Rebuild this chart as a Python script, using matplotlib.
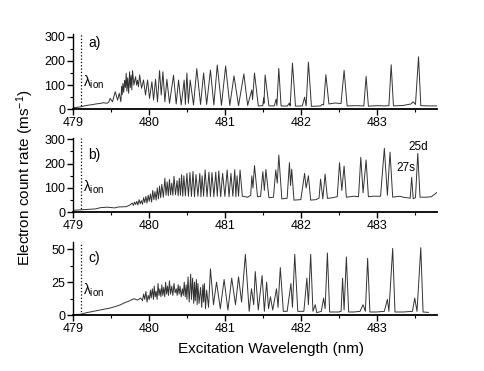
import numpy as np
import matplotlib
matplotlib.use('Agg')
import matplotlib.pyplot as plt
from matplotlib.ticker import MultipleLocator

plt.rcParams['font.family'] = ['Liberation Sans', 'DejaVu Sans']
plt.rcParams['mathtext.fontset'] = 'custom'
plt.rcParams['mathtext.rm'] = 'Liberation Sans'
plt.rcParams['mathtext.it'] = 'Liberation Sans'

# ---- panel a: peak tops and valley/baseline points (nm, counts per ms)
a_pk_x = [479.49, 479.556, 479.609, 479.64, 479.657, 479.68, 479.701, 479.72, 479.745, 479.765,
          479.784, 479.824, 479.85, 479.877, 479.929, 479.982, 480.039, 480.087, 480.140, 480.184,
          480.236, 480.324, 480.390, 480.464, 480.50, 480.543, 480.63, 480.72, 480.81, 480.90,
          481.01, 481.12, 481.25, 481.355, 481.39, 481.51, 481.53, 481.675, 481.71, 481.85,
          481.89, 482.05, 482.10, 482.28, 482.33, 482.57, 482.86, 483.19, 483.48, 483.55]
a_pk_y = [45, 73, 66, 95, 107, 120, 149, 130, 155, 140,
          160, 135, 120, 142, 121, 121, 114, 124, 160, 155,
          124, 141, 121, 121, 150, 121, 168, 150, 162, 183,
          179, 138, 146, 80, 150, 47, 142, 42, 169, 26,
          191, 50, 195, 20, 143, 161, 136, 184, 31, 217]
a_bg_x = [479.00, 479.05, 479.10, 479.15, 479.20, 479.25, 479.30, 479.35, 479.40, 479.45,
          479.47, 479.52, 479.587, 479.631, 479.648, 479.668, 479.69, 479.71, 479.733, 479.755,
          479.775, 479.802, 479.838, 479.862, 479.903, 479.955, 480.008, 480.061, 480.113, 480.162,
          480.210, 480.271, 480.359, 480.425, 480.48, 480.52, 480.587, 480.68, 480.76, 480.855,
          480.955, 481.065, 481.18, 481.30, 481.365, 481.44, 481.50, 481.515, 481.58, 481.65,
          481.685, 481.74, 481.82, 481.86, 481.93, 482.02, 482.07, 482.14, 482.26, 482.30,
          482.37, 482.45, 482.53, 482.61, 482.72, 482.83, 482.89, 483.00, 483.10, 483.16,
          483.22, 483.35, 483.45, 483.51, 483.58, 483.70, 483.79]
a_bg_y = [6, 8, 10, 14, 17, 19, 22, 24, 27, 25,
          30, 31, 38, 31, 60, 70, 90, 75, 66, 90,
          80, 100, 100, 93, 87, 59, 45, 38, 31, 59,
          31, 25, 22, 18, 20, 25, 18, 20, 20, 18,
          16, 16, 15, 16, 40, 14, 15, 25, 14, 14,
          15, 14, 13, 14, 13, 14, 14, 12, 14, 18,
          22, 26, 24, 14, 15, 14, 13, 15, 14, 15,
          14, 16, 22, 20, 15, 14, 14]

# ---- panel b
b_pk_x = [479.78, 479.81, 479.84, 479.87, 479.90, 479.93, 479.96, 479.99, 480.02, 480.05,
          480.08, 480.11, 480.14, 480.17, 480.21, 480.24, 480.27, 480.30, 480.33, 480.37,
          480.40, 480.43, 480.46, 480.50, 480.54, 480.58, 480.62, 480.67, 480.70, 480.74,
          480.79, 480.83, 480.88, 480.92, 480.97, 481.03, 481.08, 481.13, 481.16, 481.20,
          481.355, 481.39, 481.50, 481.54, 481.67, 481.71, 481.85, 481.88, 482.05, 482.10,
          482.26, 482.32, 482.51, 482.57, 482.79, 482.86, 483.10, 483.175, 483.46, 483.54]
b_pk_y = [38, 42, 45, 52, 48, 60, 65, 70, 75, 90,
          85, 100, 108, 115, 140, 125, 135, 120, 148, 130,
          140, 155, 150, 160, 163, 168, 155, 160, 150, 174,
          165, 163, 165, 170, 160, 174, 160, 175, 150, 174,
          150, 192, 167, 176, 174, 235, 204, 177, 160, 150,
          136, 157, 204, 190, 226, 215, 263, 247, 144, 242]
b_bg_x = [479.00, 479.10, 479.20, 479.30, 479.36, 479.45, 479.55, 479.60, 479.70, 479.75,
          479.795, 479.825, 479.855, 479.885, 479.915, 479.945, 479.975, 480.005, 480.035, 480.065,
          480.095, 480.125, 480.155, 480.19, 480.225, 480.255, 480.285, 480.315, 480.35, 480.385,
          480.415, 480.445, 480.48, 480.52, 480.56, 480.60, 480.645, 480.685, 480.72, 480.765,
          480.81, 480.855, 480.90, 480.945, 481.00, 481.055, 481.105, 481.145, 481.18, 481.23,
          481.30, 481.34, 481.37, 481.43, 481.47, 481.52, 481.58, 481.64, 481.69, 481.75,
          481.82, 481.865, 481.91, 482.00, 482.07, 482.13, 482.20, 482.24, 482.29, 482.35,
          482.42, 482.48, 482.54, 482.60, 482.70, 482.76, 482.82, 482.89, 482.95, 483.05,
          483.14, 483.21, 483.30, 483.35, 483.40, 483.44, 483.48, 483.51, 483.57, 483.65,
          483.72, 483.79]
b_bg_y = [8, 10, 12, 14, 19, 21, 18, 22, 23, 30,
          28, 32, 30, 35, 33, 40, 38, 45, 42, 52,
          50, 55, 60, 62, 70, 68, 72, 70, 72, 68,
          70, 66, 68, 66, 65, 64, 66, 64, 66, 64,
          65, 64, 66, 64, 65, 64, 66, 64, 66, 66,
          62, 70, 100, 64, 65, 90, 60, 62, 120, 55,
          58, 110, 50, 52, 100, 50, 52, 58, 55, 57,
          60, 64, 90, 62, 66, 64, 80, 64, 66, 66,
          70, 62, 66, 62, 60, 58, 56, 60, 62, 62,
          64, 81]

# ---- panel c
c_pk_x = [479.93, 479.96, 479.99, 480.02, 480.045, 480.07, 480.095, 480.12, 480.145, 480.17,
          480.195, 480.22, 480.245, 480.27, 480.30, 480.33, 480.36, 480.385, 480.41, 480.44,
          480.465, 480.49, 480.515, 480.55, 480.575, 480.60, 480.625, 480.645, 480.68, 480.71,
          480.73, 480.76, 480.81, 480.89, 480.99, 481.09, 481.18, 481.27, 481.35, 481.40,
          481.49, 481.55, 481.60, 481.68, 481.73, 481.87, 481.92, 482.08, 482.13, 482.19,
          482.30, 482.35, 482.55, 482.60, 482.82, 482.88, 483.14, 483.21, 483.50, 483.58]
c_pk_y = [16, 18, 15, 19, 20, 22, 18, 24, 20, 23,
          21, 25, 22, 26, 22, 24, 20, 23, 22, 20,
          25, 23, 29, 31, 28, 25, 27, 24, 21, 23,
          24, 19, 35, 25, 27, 28, 29, 46, 20, 33,
          30, 25, 14, 20, 36, 24, 46, 28, 46, 8,
          13, 47, 28, 44, 8, 43, 12, 50.5, 13, 51]
c_bg_x = [479.00, 479.10, 479.18, 479.27, 479.36, 479.49, 479.55, 479.62, 479.68, 479.75,
          479.80, 479.85, 479.89, 479.915, 479.945, 479.975, 480.005, 480.03, 480.06, 480.083,
          480.108, 480.133, 480.158, 480.183, 480.208, 480.233, 480.258, 480.285, 480.315, 480.345,
          480.372, 480.397, 480.425, 480.452, 480.478, 480.50, 480.53, 480.56, 480.59, 480.61,
          480.635, 480.66, 480.695, 480.72, 480.745, 480.785, 480.85, 480.94, 481.04, 481.14,
          481.22, 481.32, 481.38, 481.44, 481.52, 481.575, 481.63, 481.70, 481.77, 481.82,
          481.89, 481.96, 482.04, 482.10, 482.16, 482.21, 482.27, 482.32, 482.38, 482.50,
          482.53, 482.57, 482.63, 482.70, 482.78, 482.85, 482.91, 483.00, 483.10, 483.16,
          483.24, 483.35, 483.47, 483.53, 483.61, 483.68]
c_bg_y = [0.5, 0.8, 2, 3, 4, 5.5, 6.5, 7.8, 9.5, 11,
          12.5, 11.5, 13, 11, 12, 10, 12, 13, 12, 14,
          12, 15, 14, 15, 14, 16, 15, 16, 15, 17,
          15, 16, 14, 15, 14, 12, 10, 12, 9, 11,
          8, 9, 6, 10, 5, 6, 8, 5, 4, 8,
          10, 3, 8, 4, 3, 5, 4, 6, 3, 3,
          6, 3, 3, 8, 3, 2, 3, 5, 2.5, 2.5,
          3, 4, 2.5, 2.5, 3, 3, 2.5, 2.5, 3, 3,
          2.5, 2.5, 3, 3, 2.5, 2.2]

panels = [
    (a_pk_x, a_pk_y, a_bg_x, a_bg_y, 310, [0, 100, 200, 300], 50, 'a)', 274, 112),
    (b_pk_x, b_pk_y, b_bg_x, b_bg_y, 305, [0, 100, 200, 300], 50, 'b)', 235, 103),
    (c_pk_x, c_pk_y, c_bg_x, c_bg_y, 55, [0, 25, 50], 12.5, 'c)', 43, 19),
]

fig = plt.figure(figsize=(4.85, 3.71), dpi=100)
rects = [[0.1505, 0.7054, 0.75, 0.2022],
         [0.1505, 0.4278, 0.75, 0.2000],
         [0.1505, 0.1501, 0.75, 0.1966]]

for rect, (px, py, bx, by, ytop, yt, ymin, lab, laby, lamy) in zip(rects, panels):
    ax = fig.add_axes(rect)
    x = np.concatenate([px, bx])
    y = np.concatenate([py, by])
    order = np.argsort(x)
    ax.plot(x[order], y[order], color='#333333', lw=0.7)
    ax.axvline(479.1, color='black', ls=':', lw=0.9)
    ax.set_xlim(479, 483.79)
    ax.set_ylim(0, ytop)
    ax.set_yticks(yt)
    ax.set_xticks([479, 480, 481, 482, 483])
    ax.xaxis.set_minor_locator(MultipleLocator(0.5))
    ax.yaxis.set_minor_locator(MultipleLocator(ymin))
    ax.tick_params(which='major', direction='out', length=4, width=1, labelsize=9, pad=1.5)
    ax.tick_params(which='minor', direction='out', length=2.5, width=0.8)
    ax.spines['top'].set_visible(False)
    ax.spines['right'].set_visible(False)
    ax.spines['bottom'].set_linewidth(1.3)
    ax.spines['left'].set_linewidth(1.0)
    ax.text(479.2, laby, lab, fontsize=10, va='center', ha='left')
    ax.text(479.13, lamy, r'$\lambda_{\mathrm{ion}}$', fontsize=10, va='center', ha='left')
    if lab == 'b)':
        ax.text(483.54, 270, '25d', fontsize=8.5, ha='center', va='center')
        ax.text(483.38, 181, '27s', fontsize=8.5, ha='center', va='center')

fig.text(0.052, 1 - 178 / 371, r'Electron count rate (ms$^{\mathrm{-1}}$)', rotation=90,
         ha='center', va='center', fontsize=11)
fig.text(0.559, 0.059, 'Excitation Wavelength (nm)', ha='center', va='center', fontsize=11)

fig.savefig('out.png', dpi=100)
